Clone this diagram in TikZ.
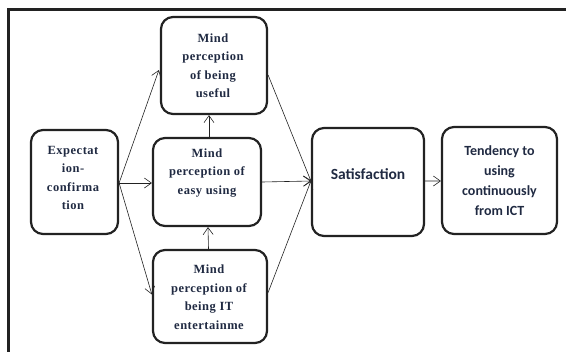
\documentclass[tikz,border=0pt]{standalone}
\usepackage{fontspec}
\setmainfont{Liberation Serif}
\newfontfamily\boxserif[LetterSpace=4]{Liberation Serif}
\newfontfamily\boxsans{Carlito}
\usetikzlibrary{arrows.meta,calc}
\definecolor{inkblue}{RGB}{32,42,66}
\definecolor{edge}{RGB}{34,34,34}
\tikzset{
  box/.style={draw=edge, line width=2.2bp, rounded corners=12bp, inner sep=0pt},
  serifnote/.style={text=inkblue, align=center, inner sep=0pt,
    font=\boxserif\bfseries\fontsize{12.5bp}{18.5bp}\selectfont},
  sansnote/.style={text=inkblue, align=center, inner sep=0pt,
    font=\boxsans\bfseries\fontsize{14bp}{20bp}\selectfont},
  link/.style={draw=edge, line width=0.6bp, -{Straight Barb[length=7bp,width=10bp]}},
  frame/.style={draw=edge, line width=2.6bp}
}
\begin{document}
\begin{tikzpicture}[x=1bp,y=-1bp]
\useasboundingbox (0,0) rectangle (566,351);

% outer frame, open to the right and bottom
\coordinate (fbl) at (8.5,353);
\coordinate (ftl) at (8.5,9.5);
\coordinate (ftr) at (568,9.5);
\draw[frame] (fbl) -- (ftl) -- (ftr);

% boxes
\node[box, minimum width=87bp, minimum height=104bp] (exp) at (74.5,182) {};
\node[box, minimum width=106bp, minimum height=97bp] (useful) at (214,65.5) {};
\node[box, minimum width=108bp, minimum height=88bp] (easy) at (207,182) {};
\node[box, minimum width=114bp, minimum height=93bp] (it) at (210,296.5) {};
\node[box, minimum width=112bp, minimum height=108bp] (sat) at (368,182) {};
\node[box, minimum width=115bp, minimum height=107bp] (tend) at (499.5,180.5) {};

% box texts
\node[serifnote] (exp-t) at ($(exp)+(-1.5,-4)$) {Expectat\\ion-\\confirma\\tion};
\node[serifnote] (useful-t) at ($(useful)+(-1,0)$) {Mind\\perception\\of being\\useful};
\node[serifnote] (easy-t) at ($(easy)+(0,-9)$) {Mind\\perception of\\easy using};
\node[serifnote] (it-t) at ($(it)+(-1,0.5)$) {Mind\\perception of\\being IT\\entertainme};
\node[sansnote, font=\boxsans\bfseries\fontsize{15.5bp}{20bp}\selectfont] (sat-t) at ($(sat)+(0,-8)$) {Satisfaction};
\node[sansnote] (tend-t) at ($(tend)+(0,0)$) {Tendency to\\using\\continuously\\from ICT};

% connectors
\coordinate (hub) at ($(exp.east)+(0,1)$);
\coordinate (satin) at ($(sat.west)+(0,-1)$);
\draw[link] (hub) -- ($(useful.west)+(-1,4.5)$);
\draw[link] (hub) -- ($(easy.west)+(0,1)$);
\draw[link] (hub) -- ($(it.west)+(0,-2)$);
\draw[link] ($(easy.north)+(2,0)$) -- ($(useful.south)+(-5,0)$);
\draw[link] ($(it.north)+(-1.5,0)$) -- ($(easy.south)+(1,0)$);
\draw[link] ($(useful.east)+(0,9.5)$) -- (satin);
\draw[link] (easy.east) -- (satin);
\draw[link] ($(it.east)+(0,-4)$) -- (satin);
\draw[link] ($(sat.east)+(0,-1)$) -- ($(tend.west)+(0,0.5)$);
\end{tikzpicture}
\end{document}
